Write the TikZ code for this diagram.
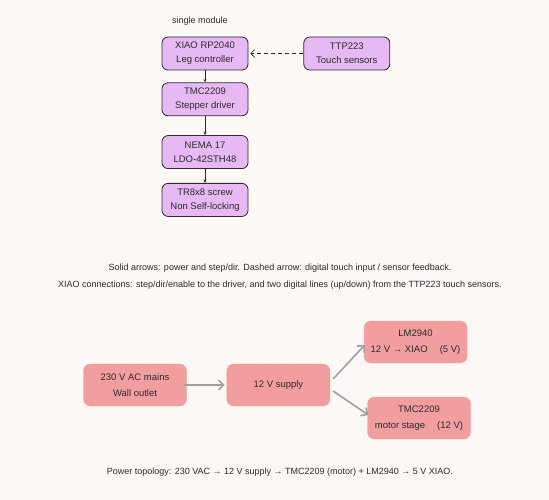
\documentclass[tikz,border=0pt]{standalone}
\usepackage{fontspec}
\setmainfont{Liberation Sans}
\usetikzlibrary{positioning,arrows.meta}
\definecolor{paper}{HTML}{FCF8F6}
\definecolor{lilac}{HTML}{E6B8F4}
\definecolor{salmon}{HTML}{F29E9E}
\definecolor{ink}{HTML}{2B2B2B}
\definecolor{wire}{HTML}{A0A0A0}

\begin{document}
\begin{tikzpicture}[x=1pt, y=-1pt, node distance=12pt,
  every node/.style={font=\fontsize{9}{14}\selectfont, text=ink},
  part/.style={draw=ink, fill=lilac, rounded corners=6pt, line width=0.8pt,
    minimum width=86pt, minimum height=33pt, align=center,
    font=\fontsize{9.5}{14}\selectfont},
  feed/.style={draw=salmon, fill=salmon, rounded corners=7pt,
    minimum width=103pt, minimum height=42pt, align=center,
    font=\fontsize{9.5}{16}\selectfont},
  link/.style={draw=ink, line width=0.6pt, -{Stealth[length=3.5pt,width=3pt]}},
  power/.style={draw=wire, line width=1.6pt, -{Straight Barb[length=5pt,width=10pt]}}]
\fill[paper] (0,0) rectangle (549,500);
\useasboundingbox (0,0) rectangle (549,500);

\node (title) at (200,21) {single module};
\node[part] (xiao) at (205,53.5) {XIAO RP2040\\Leg controller};
\node[part, below=12pt of xiao] (drv) {TMC2209\\Stepper driver};
\node[part, below=19pt of drv] (nema) {NEMA 17\\LDO-42STH48};
\node[part, below=14pt of nema] (screw) {TR8x8 screw\\Non Self-locking};
\node[part, right=55pt of xiao] (ttp) {TTP223\\Touch sensors};

\draw[link] (xiao) -- (drv);
\draw[link] (drv) -- (nema);
\draw[link] (nema) -- (screw);
\draw[ink, line width=0.6pt, dash pattern=on 4pt off 3pt, shorten >=2pt,
  -{Straight Barb[length=4pt,width=8pt]}] (ttp) -- (xiao);

\node (note1) at (280,268) {Solid arrows: power and step/dir. Dashed arrow: digital touch input / sensor feedback.};
\node (note2) at (280,285) {XIAO connections: step/dir/enable to the driver, and two digital lines (up/down) from the TTP223 touch sensors.};

\node[feed] (mains) at (135,385) {230 V AC mains\\Wall outlet};
\node[feed, right=40pt of mains] (supply) {12 V supply};
\node[feed] (ldo) at (415.5,342) {LM2940\\12 V → XIAO \quad (5 V)};
\node[feed] (motor) at (419,418) {TMC2209\\motor stage \quad (12 V)};

\draw[power, shorten <=-3pt, shorten >=2pt] (mains) -- (supply);
\draw[power] ([yshift=6pt,xshift=3pt]supply.east) -- ([yshift=-3pt,xshift=1pt]ldo.west);
\draw[power] ([yshift=-6pt,xshift=3pt]supply.east) -- ([yshift=3pt,xshift=1pt]motor.west);

\node (topo) at (280,472) {Power topology: 230 VAC → 12 V supply → TMC2209 (motor) + LM2940 → 5 V XIAO.};
\end{tikzpicture}
\end{document}
